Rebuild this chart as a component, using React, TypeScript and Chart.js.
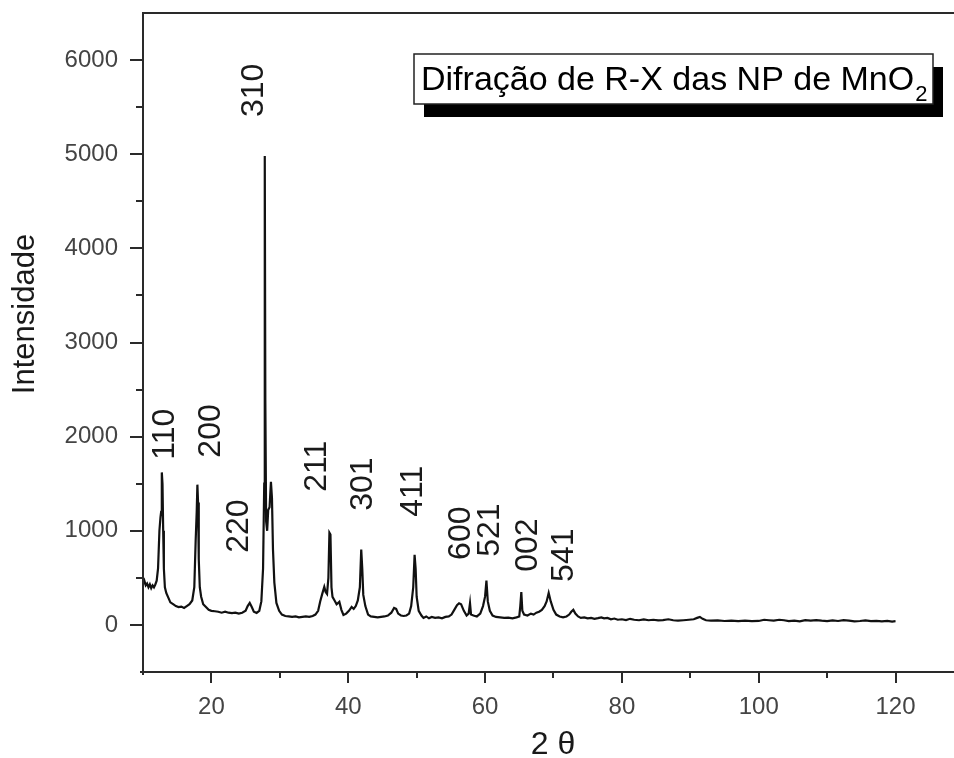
import React, { useEffect, useRef } from "react";
import { Chart, registerables } from "chart.js";

Chart.register(...registerables);

// 2θ positions (degrees)
const twoTheta = [
  10.0, 10.2, 10.4, 10.6, 10.8, 11.0, 11.2, 11.4, 11.6, 11.8,
  12.0, 12.2, 12.4, 12.55, 12.65, 12.75, 12.85, 12.95, 13.05, 13.2,
  13.4, 13.7, 14.0, 14.4, 14.8, 15.2, 15.6, 16.0, 16.4, 16.8,
  17.2, 17.5, 17.7, 17.85, 17.95, 18.05, 18.15, 18.3, 18.5, 18.8,
  19.2, 19.6, 20.0, 20.5, 21.0, 21.5, 22.0, 22.5, 23.0, 23.5,
  24.0, 24.5, 25.0, 25.3, 25.6, 25.9, 26.2, 26.6, 27.0, 27.3,
  27.55, 27.72, 27.8, 27.88, 28.0, 28.15, 28.3, 28.5, 28.7, 28.85,
  29.0, 29.2, 29.5, 29.9, 30.3, 30.8, 31.3, 31.8, 32.3, 32.8,
  33.3, 33.8, 34.3, 34.8, 35.2, 35.6, 35.9, 36.2, 36.5, 36.7,
  36.9, 37.1, 37.25, 37.4, 37.55, 37.7, 38.0, 38.3, 38.7, 39.0,
  39.3, 39.7, 40.1, 40.5, 40.8, 41.1, 41.4, 41.7, 41.9, 42.05,
  42.2, 42.5, 42.9, 43.3, 43.8, 44.3, 44.8, 45.3, 45.8, 46.3,
  46.7, 47.0, 47.3, 47.7, 48.1, 48.5, 48.9, 49.2, 49.5, 49.7,
  49.85, 50.0, 50.3, 50.7, 51.0, 51.4, 51.8, 52.2, 52.7, 53.2,
  53.7, 54.2, 54.7, 55.1, 55.5, 55.9, 56.2, 56.5, 56.9, 57.3,
  57.6, 57.8, 57.95, 58.3, 58.8, 59.3, 59.7, 60.0, 60.2, 60.4,
  60.7, 61.1, 61.6, 62.2, 62.8, 63.4, 64.0, 64.6, 65.0, 65.15,
  65.3, 65.45, 65.7, 66.2, 66.7, 67.1, 67.5, 67.9, 68.3, 68.7,
  69.0, 69.3, 69.6, 70.0, 70.4, 70.9, 71.4, 71.9, 72.3, 72.6,
  72.9, 73.2, 73.6, 74.0, 74.5, 75.0, 75.5, 76.0, 76.5, 77.0,
  77.4, 77.9, 78.4, 78.9, 79.4, 80.0, 80.6, 81.2, 81.8, 82.5,
  83.2, 83.9, 84.6, 85.3, 86.0, 86.8, 87.5, 88.2, 89.0, 89.8,
  90.5, 91.0, 91.4, 91.8, 92.3, 93.0, 94.0, 95.0, 96.0, 97.0,
  98.0, 99.0, 100.0, 100.8, 101.5, 102.2, 103.0, 103.7, 104.4, 105.2,
  106.0, 106.8, 107.6, 108.4, 109.2, 110.0, 110.8, 111.6, 112.4, 113.2,
  114.0, 114.8, 115.6, 116.4, 117.2, 118.0, 118.8, 119.5, 120.0,
];

// Intensity (counts)
const intensity = [
  430, 470, 420, 440, 400, 430, 390, 420, 400, 430,
  470, 600, 1000, 1140, 1200, 1620, 1500, 1000, 600, 400,
  340, 290, 240, 220, 200, 190, 195, 180, 200, 220,
  260, 400, 900, 1200, 1490, 1300, 700, 400, 300, 220,
  190, 160, 150, 145, 140, 130, 140, 130, 125, 130,
  120, 130, 150, 200, 234, 190, 140, 128, 150, 250,
  600, 1500, 4980, 2400, 1100, 1000, 1220, 1250, 1520, 1350,
  800, 450, 234, 150, 110, 95, 90, 85, 90, 80,
  85, 90, 85, 95, 110, 150, 250, 330, 404, 350,
  330, 500, 979, 960, 400, 298, 260, 220, 245, 160,
  106, 120, 150, 191, 170, 200, 260, 400, 800, 600,
  319, 200, 110, 90, 85, 80, 85, 90, 100, 130,
  181, 170, 120, 100, 95, 100, 120, 200, 400, 745,
  600, 300, 150, 100, 74, 90, 70, 85, 75, 80,
  70, 85, 90, 110, 160, 210, 230, 220, 150, 100,
  120, 230, 110, 100, 90, 120, 200, 300, 470, 250,
  150, 100, 85, 80, 75, 78, 70, 80, 90, 200,
  350, 150, 110, 100, 120, 110, 130, 140, 160, 200,
  250, 340, 250, 160, 110, 90, 80, 90, 110, 140,
  160, 120, 90, 75, 80, 70, 75, 65, 72, 80,
  70, 75, 60, 68, 55, 60, 52, 65, 55, 50,
  58, 50, 55, 48, 52, 60, 50, 45, 50, 55,
  60, 75, 85, 65, 50, 45, 48, 42, 45, 40,
  45, 40, 42, 55, 50, 45, 55, 50, 40, 45,
  38, 50, 45, 52, 45, 40, 48, 42, 50, 45,
  38, 42, 48, 40, 44, 38, 42, 36, 40,
];

// Miller-index labels of the peaks, with the 2θ / intensity where each label starts
const peakLabels = ["110", "200", "220", "310", "211", "301", "411", "600", "521", "002", "541"];
const peakLabelX = [13.3, 20.0, 24.0, 26.2, 35.4, 42.2, 49.5, 56.5, 60.7, 66.3, 71.5];
const peakLabelY = [1755, 1777, 766, 5394, 1415, 1213, 1149, 691, 723, 564, 457];

// Axis ticks
const xMajorTicks = [20, 40, 60, 80, 100, 120];
const xMinorTicks = [30, 50, 70, 90, 110];
const yMajorTicks = [0, 1000, 2000, 3000, 4000, 5000, 6000];
const yMinorTicks = [500, 1500, 2500, 3500, 4500, 5500];

const xTitle = "2 θ";
const yTitle = "Intensidade";
const boxTitle = "Difração de R-X das NP de MnO";
const boxSubscript = "2";

const FONT = '"Liberation Sans", Arial, Helvetica, sans-serif';

const decorPlugin = {
  id: "decor",
  afterDraw(chart: any) {
    const { ctx, chartArea: a, scales } = chart;
    const xs = scales.x;
    const ys = scales.y;
    ctx.save();

    // peak labels (rotated)
    ctx.fillStyle = "#1a1a1a";
    ctx.font = `32px ${FONT}`;
    ctx.textAlign = "left";
    ctx.textBaseline = "middle";
    peakLabels.forEach((t, i) => {
      const px = xs.getPixelForValue(peakLabelX[i]);
      const py = ys.getPixelForValue(peakLabelY[i]);
      ctx.save();
      ctx.translate(px, py);
      ctx.rotate(-Math.PI / 2);
      ctx.fillText(t, 0, 0);
      ctx.restore();
    });

    // frame
    ctx.strokeStyle = "#2a2a2a";
    ctx.lineWidth = 2;
    ctx.beginPath();
    ctx.moveTo(a.right + 2, a.top);
    ctx.lineTo(a.left, a.top);
    ctx.lineTo(a.left, a.bottom + 3);
    ctx.moveTo(a.left - 3, a.bottom);
    ctx.lineTo(a.right + 2, a.bottom);
    ctx.stroke();

    // ticks
    ctx.lineWidth = 2;
    ctx.beginPath();
    xMajorTicks.forEach((v) => {
      const p = Math.round(xs.getPixelForValue(v));
      ctx.moveTo(p, a.bottom);
      ctx.lineTo(p, a.bottom + 11);
    });
    xMinorTicks.forEach((v) => {
      const p = Math.round(xs.getPixelForValue(v));
      ctx.moveTo(p, a.bottom);
      ctx.lineTo(p, a.bottom + 6);
    });
    yMajorTicks.forEach((v) => {
      const p = Math.round(ys.getPixelForValue(v));
      ctx.moveTo(a.left, p);
      ctx.lineTo(a.left - 13, p);
    });
    yMinorTicks.forEach((v) => {
      const p = Math.round(ys.getPixelForValue(v));
      ctx.moveTo(a.left, p);
      ctx.lineTo(a.left - 7, p);
    });
    ctx.stroke();

    // axis titles
    ctx.fillStyle = "#1a1a1a";
    ctx.font = `32px ${FONT}`;
    ctx.textAlign = "center";
    ctx.textBaseline = "middle";
    ctx.fillText(xTitle, (a.left + a.right) / 2 + 5, 745);
    ctx.save();
    ctx.translate(25, 314);
    ctx.rotate(-Math.PI / 2);
    ctx.font = `31px ${FONT}`;
    ctx.fillText(yTitle, 0, 0);
    ctx.restore();

    // title box with shadow
    const bx = 414, by = 54, bw = 519, bh = 50;
    ctx.fillStyle = "#000";
    ctx.fillRect(bx + 10, by + 13, bw, bh);
    ctx.fillStyle = "#fff";
    ctx.fillRect(bx, by, bw, bh);
    ctx.strokeStyle = "#222";
    ctx.lineWidth = 1.5;
    ctx.strokeRect(bx, by, bw, bh);
    ctx.fillStyle = "#000";
    ctx.textAlign = "left";
    ctx.textBaseline = "alphabetic";
    ctx.font = `34px ${FONT}`;
    ctx.fillText(boxTitle, bx + 7, 90);
    const w = ctx.measureText(boxTitle).width;
    ctx.font = `22px ${FONT}`;
    ctx.fillText(boxSubscript, bx + 7 + w + 1, 101);

    ctx.restore();
  },
};

export default function App() {
  const ref = useRef<HTMLCanvasElement>(null);

  useEffect(() => {
    if (!ref.current) return;
    const points = twoTheta.map((x, i) => ({ x, y: intensity[i] }));
    const chart = new Chart(ref.current, {
      type: "line",
      data: {
        datasets: [
          {
            data: points,
            borderColor: "#111",
            borderWidth: 2.2,
            pointRadius: 0,
            tension: 0,
            fill: false,
          },
        ],
      },
      options: {
        responsive: false,
        animation: false,
        events: [],
        layout: { padding: { top: 13, right: 1, left: 0, bottom: 0 } },
        plugins: {
          legend: { display: false },
          tooltip: { enabled: false },
          title: { display: false },
        },
        scales: {
          x: {
            type: "linear",
            min: 10,
            max: 128.4,
            grid: { display: false, drawTicks: true, tickLength: 11 },
            border: { display: false },
            afterBuildTicks: (scale: any) => {
              scale.ticks = [...xMajorTicks, ...xMinorTicks]
                .sort((p, q) => p - q)
                .map((v) => ({ value: v }));
            },
            afterFit: (scale: any) => {
              scale.height = 86;
              scale.paddingLeft = 0;
              scale.paddingRight = 0;
            },
            ticks: {
              autoSkip: false,
              maxRotation: 0,
              padding: 10,
              color: "#444",
              font: { family: FONT, size: 24 },
              callback: (v: any) => (xMajorTicks.includes(Number(v)) ? String(v) : ""),
            },
          },
          y: {
            type: "linear",
            min: -500,
            max: 6500,
            grid: { display: false, drawTicks: true, tickLength: 13 },
            border: { display: false },
            afterBuildTicks: (scale: any) => {
              scale.ticks = [...yMajorTicks, ...yMinorTicks]
                .sort((p, q) => p - q)
                .map((v) => ({ value: v }));
            },
            afterFit: (scale: any) => {
              scale.width = 143;
              scale.paddingTop = 0;
              scale.paddingBottom = 0;
            },
            ticks: {
              autoSkip: false,
              padding: 12,
              color: "#444",
              font: { family: FONT, size: 24 },
              callback: (v: any) => (yMajorTicks.includes(Number(v)) ? String(v) : ""),
            },
          },
        },
      },
      plugins: [decorPlugin],
    });
    return () => chart.destroy();
  }, []);

  return (
    <div style={{ position: "absolute", left: 0, top: 0, width: 954, height: 758, background: "#fff" }}>
      <canvas ref={ref} width={954} height={758} style={{ display: "block" }} />
    </div>
  );
}
